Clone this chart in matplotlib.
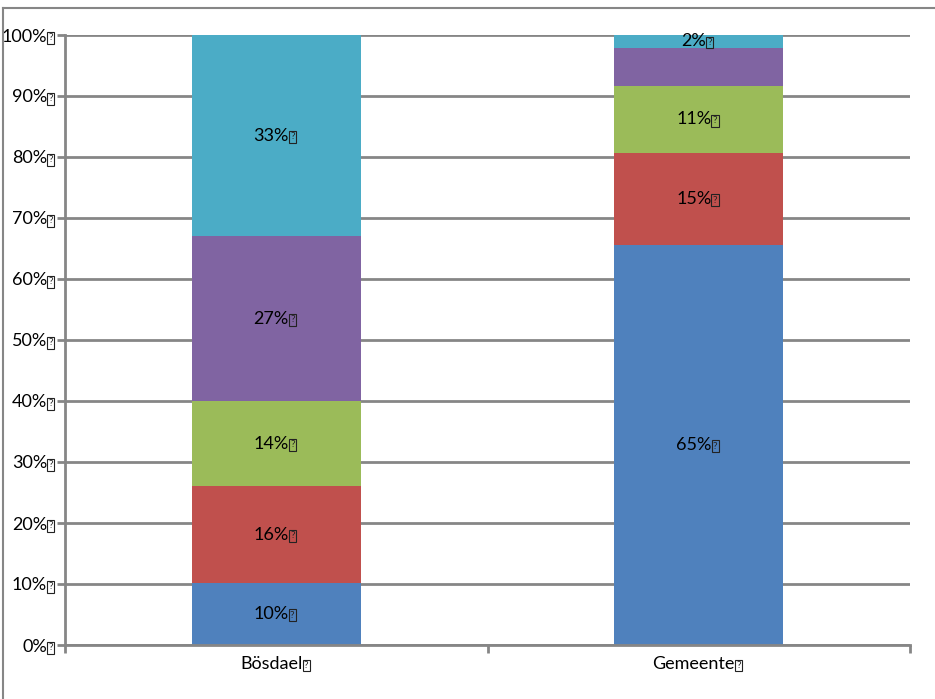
import matplotlib
matplotlib.use("Agg")
import matplotlib.pyplot as plt
from matplotlib.lines import Line2D

plt.rcParams['font.family'] = ['Lato', 'DejaVu Sans']

categories = ["Bösdael", "Gemeente"]
series_colors = ["#4F81BD", "#C0504D", "#9BBB59", "#8064A2", "#4BACC6"]
values = [
    [10.2, 65.6],
    [15.8, 15.1],
    [14.0, 10.9],
    [27.0, 6.3],
    [33.0, 2.1],
]
labels = [
    ["10%", "65%"],
    ["16%", "15%"],
    ["14%", "11%"],
    ["27%", ""],
    ["33%", "2%"],
]
yticks = [0, 10, 20, 30, 40, 50, 60, 70, 80, 90, 100]

W, H = 935, 699
FS = 13
fig = plt.figure(figsize=(W / 100, H / 100), dpi=100)
ax = fig.add_axes([65 / W, 1 - 645 / H, (910 - 65) / W, (645 - 35) / H])

gray = "#868686"


def add_mark(txt):
    # the boxed "?" that follows every text in the reference
    ax.annotate("?", xy=(1, 0.42), xycoords=txt, xytext=(1.0, 0),
                textcoords="offset points", ha="left", va="center",
                fontsize=7.5, color="#222222", annotation_clip=False,
                bbox=dict(boxstyle="square,pad=0.12", fc="none",
                          ec="#222222", lw=0.8), zorder=4)


x = [0, 1]
bottom = [0, 0]
bar_texts = []
for vals, labs, col in zip(values, labels, series_colors):
    ax.bar(x, vals, width=0.4, bottom=bottom, color=col, zorder=2)
    for xi, b, v, lab in zip(x, bottom, vals, labs):
        if lab:
            t = ax.text(xi - 0.012, b + v / 2, lab, ha="center", va="center",
                        fontsize=FS, color="black", zorder=3)
            bar_texts.append(t)
    bottom = [b + v for b, v in zip(bottom, vals)]

ax.set_xlim(-0.5, 1.5)
ax.set_ylim(0, 100)
ax.set_yticks(yticks)
ax.set_yticklabels([f"{t}%" for t in yticks], fontsize=FS)
ax.set_xticks([-0.5, 0.5, 1.5])
ax.set_xticklabels([])
ax.set_xticks([-0.012, 0.988], minor=True)
ax.set_xticklabels(categories, minor=True, fontsize=FS)
ax.tick_params(axis="x", which="minor", length=0, pad=8)
ax.tick_params(axis="x", which="major", length=6, width=2, color=gray)
ax.tick_params(axis="y", length=6, width=2, color=gray, pad=7)
ax.yaxis.grid(True, color=gray, linewidth=2, zorder=0)
ax.set_axisbelow(True)
for s in ["top", "right"]:
    ax.spines[s].set_visible(False)
for s in ["left", "bottom"]:
    ax.spines[s].set_color(gray)
    ax.spines[s].set_linewidth(2)

# outer chart frame (left and top edges visible)
fig.add_artist(Line2D([3 / W, 3 / W], [0, 1 - 8 / H], color=gray, linewidth=1.5,
                      transform=fig.transFigure))
fig.add_artist(Line2D([3 / W, 1], [1 - 8 / H, 1 - 8 / H], color=gray, linewidth=1.5,
                      transform=fig.transFigure))

fig.canvas.draw()
for t in bar_texts:
    add_mark(t)
for lbl in ax.get_yticklabels():
    add_mark(lbl)
for lbl in ax.get_xticklabels(minor=True):
    add_mark(lbl)

fig.savefig("out.png", dpi=100)
